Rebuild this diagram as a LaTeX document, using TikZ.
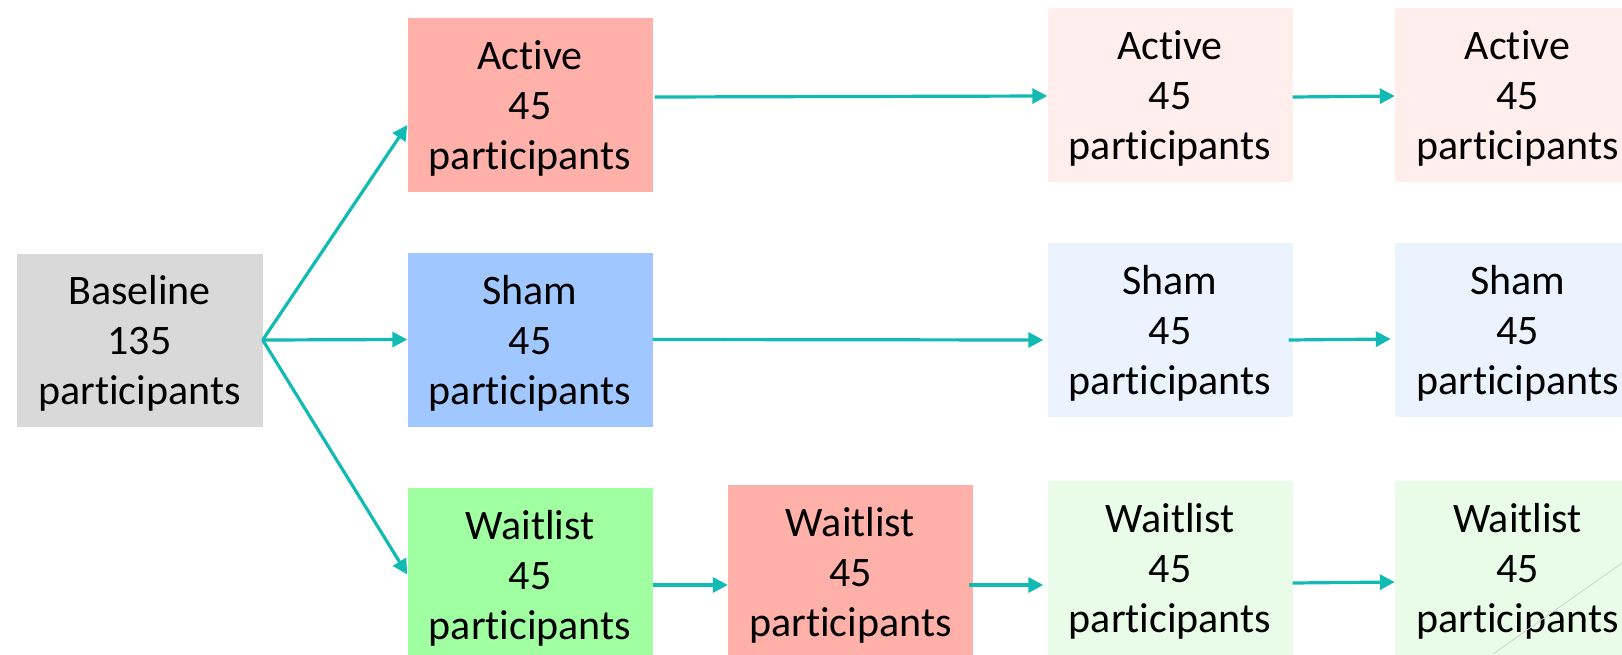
\documentclass[tikz,border=0pt]{standalone}
\usepackage{fontspec}
\setmainfont{Carlito}[RawFeature=-liga]
\usetikzlibrary{arrows.meta}
\definecolor{teal1}{RGB}{18,186,180}
\definecolor{grayb}{RGB}{217,217,217}
\definecolor{salmon}{RGB}{255,176,168}
\definecolor{blueb}{RGB}{160,199,255}
\definecolor{greenb}{RGB}{160,255,160}
\definecolor{pinkl}{RGB}{255,238,236}
\definecolor{bluel}{RGB}{235,243,255}
\definecolor{greenl}{RGB}{232,252,232}
\definecolor{faint}{RGB}{205,215,205}
\tikzset{
  box/.style={draw=none, inner sep=0pt, minimum width=245pt, minimum height=174pt,
    text width=245pt, align=center, font=\fontsize{42}{50}\selectfont,
    execute at begin node={\rule{0pt}{36pt}}},
  link/.style={draw=teal1, line width=3.2pt, -{Triangle[length=15pt,width=15pt]}}
}
\begin{document}
\begin{tikzpicture}[x=1pt,y=-1pt]
\useasboundingbox (0,0) rectangle (1622,654);
\clip (0,0) rectangle (1622,654);
\node[box, fill=grayb, minimum width=246pt, minimum height=173pt] (base) at (139.5,340) {Baseline\\135\\participants};
\node[box, fill=salmon] (a1) at (530,105) {Active\\45\\participants};
\node[box, fill=blueb] (s1) at (530,339.5) {Sham\\45\\participants};
\node[box, fill=greenb] (w1) at (530,574.5) {Waitlist\\45\\participants};
\node[box, fill=salmon] (w2) at (850.5,572) {Waitlist\\45\\participants};
\node[box, fill=pinkl] (a2) at (1170,95) {Active\\45\\participants};
\node[box, fill=bluel] (s2) at (1170,330) {Sham\\45\\participants};
\node[box, fill=greenl] (w3) at (1170,567.5) {Waitlist\\45\\participants};
\node[box, fill=pinkl] (a3) at (1517.5,95) {Active\\45\\participants};
\node[box, fill=bluel] (s3) at (1517.5,330) {Sham\\45\\participants};
\node[box, fill=greenl] (w4) at (1517.5,567.5) {Waitlist\\45\\participants};
\coordinate (fa) at (1622,563);
\coordinate (fb) at (1493,654);
\draw[faint, line width=0.8pt] (fa) -- (fb);
\draw[link] (base.east) -- ([yshift=-20pt]a1.west);
\draw[link] (base.east) -- (s1.west);
\draw[link] (base.east) -- (w1.west);
\draw[link] ([xshift=2pt,yshift=8pt]a1.east) -- ([yshift=-1pt]a2.west);
\draw[link] ([yshift=0pt]s1.east) -- ([xshift=-4pt,yshift=-10pt]s2.west);
\draw[link] ([yshift=-10.5pt]w1.east) -- ([yshift=-13pt]w2.west);
\draw[link] ([xshift=-4pt,yshift=-13pt]w2.east) -- ([xshift=-4pt,yshift=-17.5pt]w3.west);
\draw[link] ([yshift=-2pt]a2.east) -- ([yshift=-1pt]a3.west);
\draw[link] ([xshift=-4pt,yshift=-10pt]s2.east) -- ([xshift=-4pt,yshift=-9pt]s3.west);
\draw[link] ([yshift=-15.5pt]w3.east) -- ([yshift=-14.5pt]w4.west);
\end{tikzpicture}
\end{document}
